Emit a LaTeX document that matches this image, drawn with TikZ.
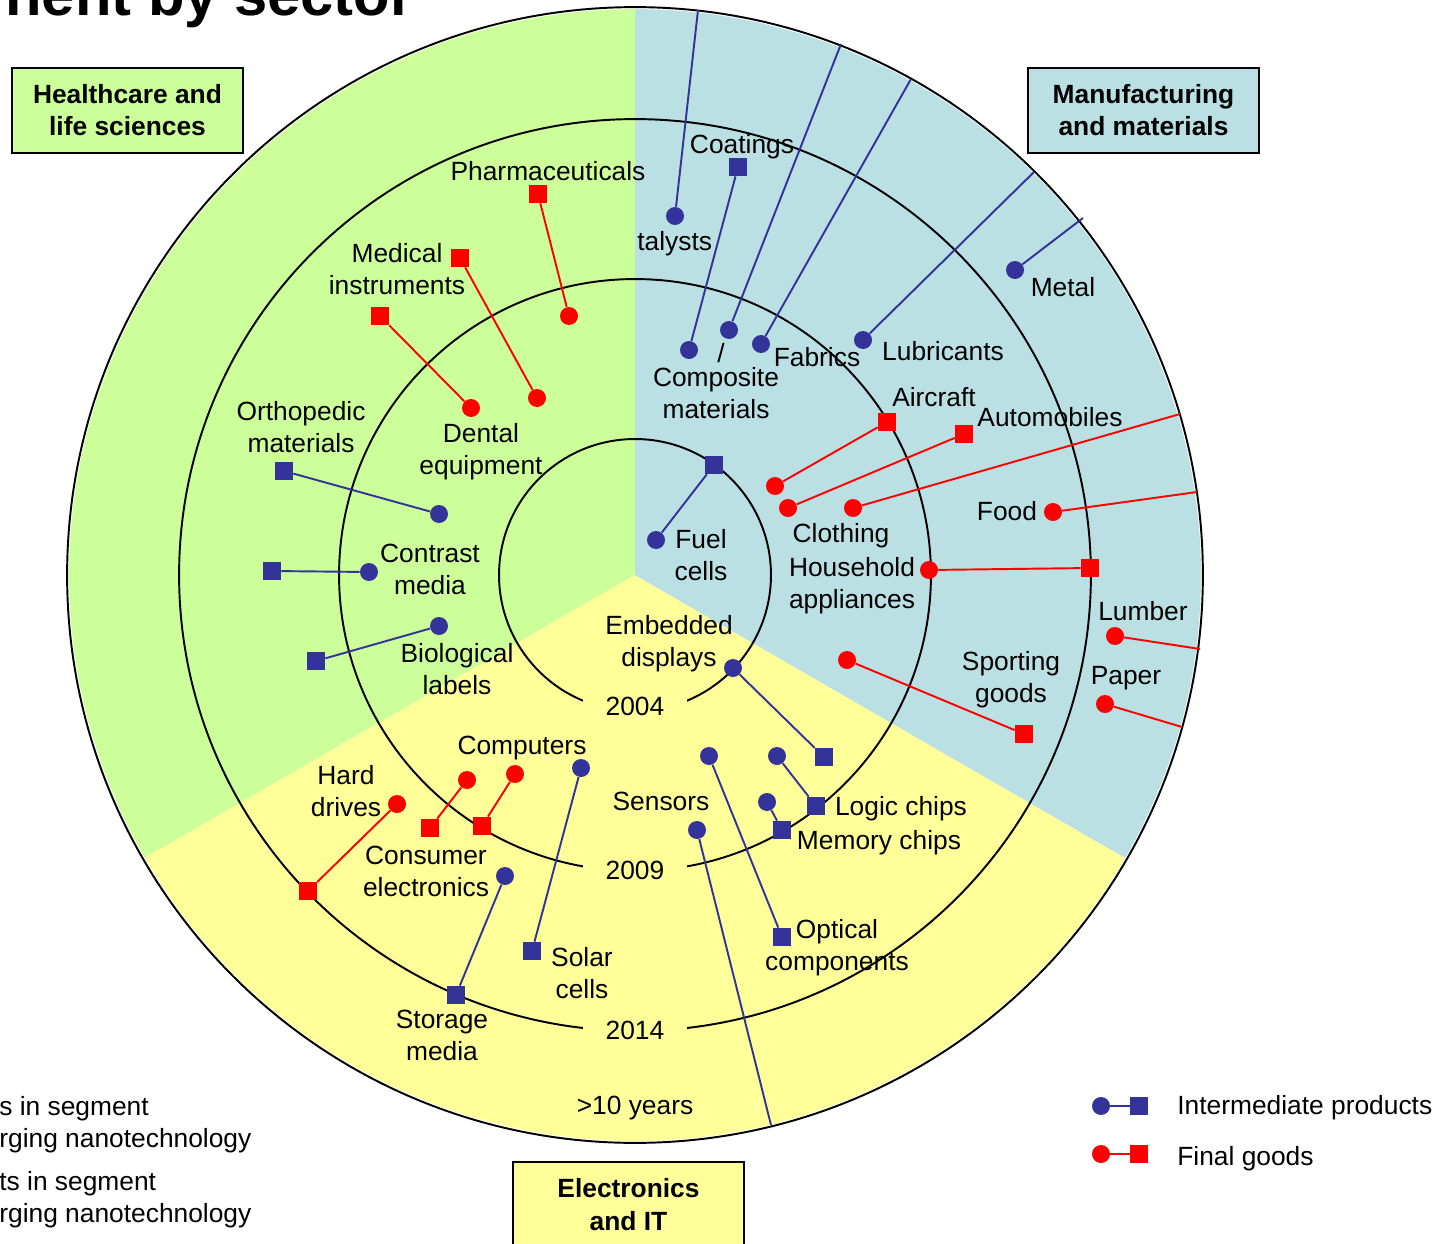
\documentclass[tikz,border=0pt]{standalone}
\usepackage{fontspec}
\setmainfont{Liberation Sans}
\usepackage{tikz}
\usetikzlibrary{positioning}
\definecolor{health}{HTML}{CCFF99}
\definecolor{manuf}{HTML}{BBE0E3}
\definecolor{electro}{HTML}{FFFF99}
\definecolor{ink}{HTML}{333399}
\tikzset{
    bdot/.style={circle, fill=ink, inner sep=0pt, minimum size=0.36cm},
    bsq/.style={rectangle, fill=ink, inner sep=0pt, minimum size=0.36cm},
    rdot/.style={circle, fill=red, inner sep=0pt, minimum size=0.36cm},
    rsq/.style={rectangle, fill=red, inner sep=0pt, minimum size=0.36cm},
    bline/.style={draw=ink, line width=1.1pt},
    rline/.style={draw=red, line width=1.1pt},
    ring/.style={draw=black, line width=1.1pt},
    lbl/.style={align=center, inner sep=0pt, font=\fontsize{15}{18.3}\selectfont},
    yearlbl/.style={lbl, fill=electro, inner xsep=0.45cm, inner ysep=3pt},
    sectorbox/.style={rectangle, draw, line width=1pt, minimum width=4.62cm, minimum height=1.7cm, align=center, font=\fontsize{15}{18.3}\selectfont\bfseries}
}
\begin{document}
\begin{tikzpicture}[x=0.02cm, y=-0.02cm]
\useasboundingbox (0,0) rectangle (1441,1244);
\coordinate (c) at (635,575);

\fill[health] (c) -- ++(90:11.32cm) arc[start angle=90, end angle=210, radius=11.32cm] -- cycle;
\fill[electro] (c) -- ++(210:11.32cm) arc[start angle=210, end angle=330, radius=11.32cm] -- cycle;
\fill[manuf] (c) -- ++(-30:11.32cm) arc[start angle=-30, end angle=90, radius=11.32cm] -- cycle;

\draw[ring] (c) circle[radius=2.72cm];
\draw[ring] (c) circle[radius=5.92cm];
\draw[ring] (c) circle[radius=9.12cm];
\draw[ring] (c) circle[radius=11.36cm];

\node[yearlbl] (y2004) at (635,706) {2004};
\node[yearlbl] (y2009) at (635,870) {2009};
\node[yearlbl] (y2014) at (635,1030) {2014};
\node[lbl] (y10) at (635,1108) {>10 years};

\node[anchor=base west, inner sep=0pt, font=\fontsize{34}{40}\selectfont\bfseries] (title) at (5,15) {nent by sector};
\node[sectorbox, fill=health] (healthbox) at (127.5,110.5) {Healthcare and\\life sciences};
\node[sectorbox, fill=manuf] (manufbox) at (1143.5,110.5) {Manufacturing\\and materials};
\node[sectorbox, fill=electro] (electrobox) at (628.5,1204.5) {Electronics\\and IT};

\coordinate (catEnd) at (698,10);
\coordinate (compEnd) at (841,44);
\coordinate (fabEnd) at (911,79);
\coordinate (lubEnd) at (1034,172);
\coordinate (metEnd) at (1083,218);
\coordinate (senEnd) at (771,1125);
\coordinate (cloEnd) at (1180,414);
\coordinate (fooEnd) at (1197,492);
\coordinate (lumEnd) at (1200,649);
\coordinate (papEnd) at (1182,727);

\node[bdot] (catD) at (675,216) {};
\node[bsq] (coatS) at (738,167) {};
\node[bdot] (coatD) at (689,350) {};
\node[bdot] (compD) at (729,330) {};
\node[bdot] (fabD) at (761,344) {};
\node[bdot] (lubD) at (863,340) {};
\node[bdot] (metD) at (1015,270) {};
\node[bdot] (fuelD) at (656,540) {};
\node[bsq] (fuelS) at (714,465) {};
\node[bsq] (orthoS) at (284,471) {};
\node[bdot] (orthoD) at (439,514) {};
\node[bsq] (conS) at (272,571) {};
\node[bdot] (conD) at (369,572) {};
\node[bsq] (bioS) at (316,661) {};
\node[bdot] (bioD) at (439,626) {};
\node[bdot] (embD) at (733,668) {};
\node[bsq] (embS) at (824,757) {};
\node[bdot] (logD) at (777,756) {};
\node[bsq] (logS) at (816,806) {};
\node[bdot] (memD) at (767,802) {};
\node[bsq] (memS) at (782,830) {};
\node[bdot] (optD) at (709,756) {};
\node[bsq] (optS) at (782,937) {};
\node[bdot] (senD) at (697,830) {};
\node[bdot] (solD) at (581,768) {};
\node[bsq] (solS) at (532,951) {};
\node[bdot] (stoD) at (505,876) {};
\node[bsq] (stoS) at (456,995) {};

\node[rsq] (phaS) at (538,194) {};
\node[rdot] (phaD) at (569,316) {};
\node[rsq] (medS) at (460,258) {};
\node[rdot] (medD) at (537,398) {};
\node[rsq] (denS) at (380,316) {};
\node[rdot] (denD) at (471,408) {};
\node[rsq] (airS) at (887,422) {};
\node[rdot] (airD) at (775,486) {};
\node[rsq] (autS) at (964,434) {};
\node[rdot] (autD) at (788,508) {};
\node[rdot] (cloD) at (853,508) {};
\node[rdot] (houD) at (929,570) {};
\node[rsq] (houS) at (1090,568) {};
\node[rdot] (fooD) at (1053,512) {};
\node[rdot] (lumD) at (1115,636) {};
\node[rdot] (papD) at (1105,704) {};
\node[rdot] (spoD) at (847,660) {};
\node[rsq] (spoS) at (1024,734) {};
\node[rdot] (comD1) at (467,780) {};
\node[rsq] (comS1) at (430,828) {};
\node[rdot] (comD2) at (515,774) {};
\node[rsq] (comS2) at (482,826) {};
\node[rdot] (hddD) at (397,804) {};
\node[rsq] (hddS) at (308,891) {};

\node[bdot] (legBD) at (1101,1106) {};
\node[bsq] (legBS) at (1139,1106) {};
\node[rdot] (legRD) at (1101,1154) {};
\node[rsq] (legRS) at (1139,1154) {};

\draw[bline] (catD) -- (catEnd);
\draw[bline] (coatS) -- (coatD);
\draw[bline] (compD) -- (compEnd);
\draw[bline] (fabD) -- (fabEnd);
\draw[bline] (lubD) -- (lubEnd);
\draw[bline] (metD) -- (metEnd);
\draw[bline] (fuelD) -- (fuelS);
\draw[bline] (orthoS) -- (orthoD);
\draw[bline] (conS) -- (conD);
\draw[bline] (bioS) -- (bioD);
\draw[bline] (embD) -- (embS);
\draw[bline] (logD) -- (logS);
\draw[bline] (memD) -- (memS);
\draw[bline] (optD) -- (optS);
\draw[bline] (senD) -- (senEnd);
\draw[bline] (solD) -- (solS);
\draw[bline] (stoD) -- (stoS);
\draw[bline] (legBD) -- (legBS);

\draw[rline] (phaS) -- (phaD);
\draw[rline] (medS) -- (medD);
\draw[rline] (denS) -- (denD);
\draw[rline] (airS) -- (airD);
\draw[rline] (autS) -- (autD);
\draw[rline] (cloD) -- (cloEnd);
\draw[rline] (houD) -- (houS);
\draw[rline] (fooD) -- (fooEnd);
\draw[rline] (lumD) -- (lumEnd);
\draw[rline] (papD) -- (papEnd);
\draw[rline] (spoD) -- (spoS);
\draw[rline] (comD1) -- (comS1);
\draw[rline] (comD2) -- (comS2);
\draw[rline] (hddD) -- (hddS);
\draw[rline] (legRD) -- (legRS);

\node[lbl] (phaL) at (548,171) {Pharmaceuticals};
\node[lbl] (medL) at (397,269) {Medical\\instruments};
\node[lbl] (orthoL) at (301,427) {Orthopedic\\materials};
\node[lbl] (denL) at (481,452) {Dental\\equipment};
\node[lbl] (conL) at (430,569) {Contrast\\media};
\node[lbl] (bioL) at (457,669) {Biological\\labels};
\node[lbl] (coatL) at (742,147) {Coatings};
\node[lbl, anchor=west] (catL) at (637,244) {talysts};
\node[lbl] (slashL) at (721,353) {/};
\node[lbl] (compL) at (716,393) {Composite\\materials};
\node[lbl] (fabL) at (817,357) {Fabrics};
\node[lbl] (lubL) at (943,351) {Lubricants};
\node[lbl] (metL) at (1063,287) {Metal};
\node[lbl] (airL) at (934,397) {Aircraft};
\node[lbl] (autL) at (1050,417) {Automobiles};
\node[lbl] (fuelL) at (701,555) {Fuel\\cells};
\node[lbl] (cloL) at (841,536) {Clothing};
\node[lbl] (houL) at (852,586) {Household\\appliances};
\node[lbl] (fooL) at (1007,511) {Food};
\node[lbl] (lumL) at (1143,611) {Lumber};
\node[lbl] (papL) at (1126,678) {Paper};
\node[lbl] (spoL) at (1011,680) {Sporting\\goods};
\node[lbl] (embL) at (669,644) {Embedded\\displays};
\node[lbl] (comL) at (522,748) {Computers};
\node[lbl] (hddL) at (346,791) {Hard\\drives};
\node[lbl] (senL) at (661,801) {Sensors};
\node[lbl] (logL) at (901,809) {Logic chips};
\node[lbl] (memL) at (879,843) {Memory chips};
\node[lbl] (consL) at (426,871) {Consumer\\electronics};
\node[lbl] (optL) at (837,948) {Optical\\components};
\node[lbl] (solL) at (582,973) {Solar\\cells};
\node[lbl] (stoL) at (442,1035) {Storage\\media};

\node[lbl, anchor=west] (legBL) at (1177,1108) {Intermediate products};
\node[lbl, anchor=west] (legRL) at (1177,1159) {Final goods};
\node[lbl, anchor=west, align=left] (note1) at (-1,1125) {s in segment\\rging nanotechnology};
\node[lbl, anchor=west, align=left] (note2) at (-1,1200) {ts in segment\\rging nanotechnology};

\end{tikzpicture}
\end{document}
